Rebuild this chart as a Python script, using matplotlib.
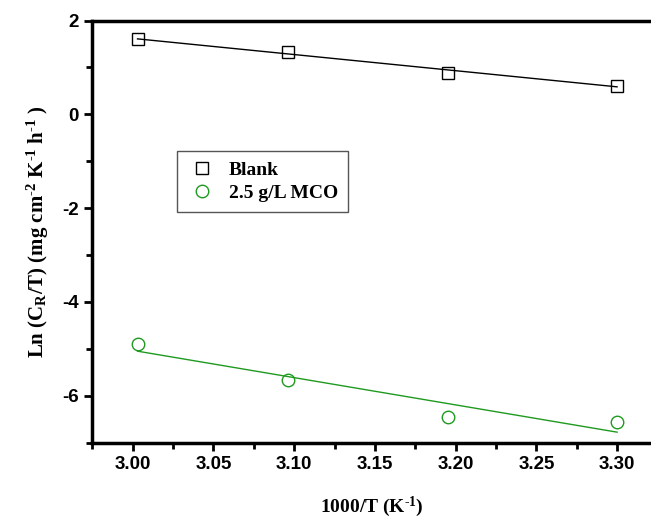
import numpy as np
import matplotlib.pyplot as plt
from matplotlib.ticker import MultipleLocator

plt.rcParams['mathtext.fontset'] = 'custom'
plt.rcParams['mathtext.rm'] = 'Liberation Serif:bold'
plt.rcParams['mathtext.bf'] = 'Liberation Serif:bold'
plt.rcParams['mathtext.it'] = 'Liberation Serif:bold'
plt.rcParams['mathtext.default'] = 'bf'
plt.rcParams['axes.unicode_minus'] = False

# 1000/T for 333, 323, 313, 303 K
inv_T = np.array([3.003, 3.096, 3.195, 3.300])
blank = np.array([1.60, 1.33, 0.89, 0.61])
mco = np.array([-4.89, -5.67, -6.46, -6.56])

fig = plt.figure(figsize=(6.51, 5.18), dpi=100)
ax = fig.add_axes([0.1418, 0.1454, 0.8582, 0.815])

# linear fits
for y, col in [(blank, 'black'), (mco, '#1f9a1f')]:
    k, b = np.polyfit(inv_T, y, 1)
    ax.plot(inv_T[[0, -1]], k * inv_T[[0, -1]] + b, '-', color=col, lw=1.0)

ax.plot(inv_T, blank, 's', ms=8, mfc='none', mec='black', mew=1.0, label='Blank')
ax.plot(inv_T, mco, 'o', ms=9, mfc='none', mec='#1f9a1f', mew=1.0, label='2.5 g/L MCO')

ax.set_xlim(2.975, 3.321)
ax.set_ylim(-7, 2)
ax.xaxis.set_major_locator(MultipleLocator(0.05))
ax.xaxis.set_minor_locator(MultipleLocator(0.025))
ax.yaxis.set_major_locator(MultipleLocator(2))
ax.yaxis.set_minor_locator(MultipleLocator(1))
ax.xaxis.set_major_formatter(plt.FormatStrFormatter('%.2f'))

ax.spines['right'].set_visible(False)
for s in ['left', 'bottom', 'top']:
    ax.spines[s].set_linewidth(2.5)
ax.tick_params(which='major', direction='out', length=6, width=2, top=False, right=False)
ax.tick_params(which='minor', direction='out', length=4, width=2, top=False, right=False)
for lab in ax.get_xticklabels() + ax.get_yticklabels():
    lab.set_family('Liberation Sans')
    lab.set_fontweight('bold')
    lab.set_fontsize(13.5)

hy = '\u2010'
ax.set_xlabel(r'1000/T (K$^{' + hy + r'1}$)', family='Liberation Serif', fontweight='bold',
              fontsize=14, labelpad=16)
ax.set_ylabel(r'Ln (C$_{R}$/T) (mg cm$^{' + hy + r'2}$ K$^{' + hy + r'1}$ h$^{' + hy + r'1}$ )',
              family='Liberation Serif', fontweight='bold', fontsize=15, labelpad=8)

leg = ax.legend(loc='upper left', bbox_to_anchor=(0.1516, 0.691), borderaxespad=0,
                fancybox=False, edgecolor='#555555', framealpha=1,
                prop={'family': 'Liberation Serif', 'weight': 'bold', 'size': 14},
                handletextpad=0.6, borderpad=0.55, labelspacing=0.25, handlelength=1.5)
leg.get_frame().set_linewidth(1.0)

fig.savefig('out.png', dpi=100)
